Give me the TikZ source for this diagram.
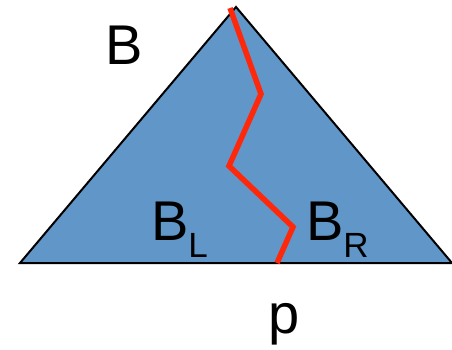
\documentclass[tikz,border=0pt]{standalone}
\usepackage{fontspec}
\setmainfont{Liberation Sans}
\usetikzlibrary{positioning}

\newcommand{\bigtxt}{\fontsize{56}{60}\selectfont}
\newcommand{\subtxt}[1]{\raisebox{-17pt}{\fontsize{35}{35}\selectfont #1}}

\begin{document}
\begin{tikzpicture}[x=1pt,y=-1pt,
  every node/.style={inner sep=0pt,outer sep=0pt},
  lbl/.style={font=\bigtxt,anchor=base west},
  tri/.style={fill={rgb,255:red,97;green,150;blue,201},draw=black,line width=2pt,line join=miter},
  cut/.style={draw={rgb,255:red,255;green,40;blue,10},line width=5.5pt,line join=miter}]
 \useasboundingbox (0,0) rectangle (452,350);
 % tree triangle
 \coordinate (top) at (236,7);
 \coordinate (left) at (20,263);
 \coordinate (right) at (452,263);
 \path[tri] (left) -- (top) -- (right) -- cycle;
 % split path
 \coordinate (c0) at (230,8);
 \coordinate (c1) at (261,94);
 \coordinate (c2) at (229,166);
 \coordinate (c3) at (293,227);
 \coordinate (c4) at (277,263);
 \draw[cut] (c0) -- (c1) -- (c2) -- (c3) -- (c4);
 % labels
 \node[lbl] (b) at (105,65) {B};
 \node[lbl] (bl) at (151,240) {B\subtxt{L}};
 \node[lbl] (br) at (306,240) {B\subtxt{R}};
 \node[lbl] (p) at (268,333) {p};
\end{tikzpicture}
\end{document}
